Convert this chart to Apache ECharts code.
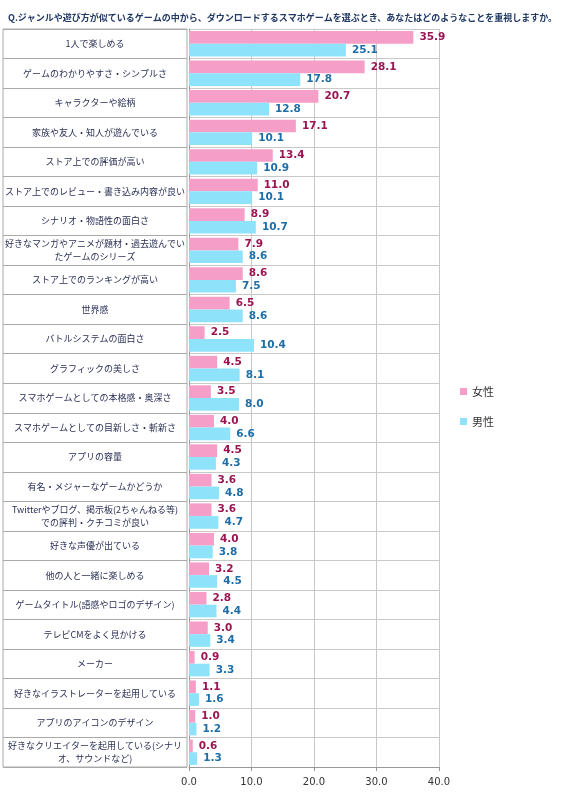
<!DOCTYPE html>
<html><head><meta charset="utf-8">
<script src="https://cdn.jsdelivr.net/npm/echarts@6/dist/echarts.min.js"></script>
<style>html,body{margin:0;padding:0;background:#fff}#c{width:563px;height:800px}</style>
</head><body><div id="c"></div>
<script>
const titleText = 'Q.ジャンルや遊び方が似ているゲームの中から、ダウンロードするスマホゲームを選ぶとき、あなたはどのようなことを重視しますか。';
const categories = [
  '1人で楽しめる',
  'ゲームのわかりやすさ・シンプルさ',
  'キャラクターや絵柄',
  '家族や友人・知人が遊んでいる',
  'ストア上での評価が高い',
  'ストア上でのレビュー・書き込み内容が良い',
  'シナリオ・物語性の面白さ',
  '好きなマンガやアニメが題材・過去遊んでい\nたゲームのシリーズ',
  'ストア上でのランキングが高い',
  '世界感',
  'バトルシステムの面白さ',
  'グラフィックの美しさ',
  'スマホゲームとしての本格感・奥深さ',
  'スマホゲームとしての目新しさ・斬新さ',
  'アプリの容量',
  '有名・メジャーなゲームかどうか',
  'Twitterやブログ、掲示板(2ちゃんねる等)\nでの評判・クチコミが良い',
  '好きな声優が出ている',
  '他の人と一緒に楽しめる',
  'ゲームタイトル(語感やロゴのデザイン)',
  'テレビCMをよく見かける',
  'メーカー',
  '好きなイラストレーターを起用している',
  'アプリのアイコンのデザイン',
  '好きなクリエイターを起用している(シナリ\nオ、サウンドなど)'
];
const female = [35.9,28.1,20.7,17.1,13.4,11.0,8.9,7.9,8.6,6.5,2.5,4.5,3.5,4.0,4.5,3.6,3.6,4.0,3.2,2.8,3.0,0.9,1.1,1.0,0.6];
const male   = [25.1,17.8,12.8,10.1,10.9,10.1,10.7,8.6,7.5,8.6,10.4,8.1,8.0,6.6,4.3,4.8,4.7,3.8,4.5,4.4,3.4,3.3,1.6,1.2,1.3];
const seriesNames = ['女性','男性'];
const xTicks = {min:0, max:40, interval:10};

const font = '"DejaVu Sans","Noto Sans CJK JP",sans-serif';
const cjk = '"Noto Sans CJK JP",sans-serif';
const chart = echarts.init(document.getElementById('c'));
const TOP = 29, BOTTOM = 33;
chart.setOption({
  animation:false,
  title:{text:titleText,left:3,top:8,textStyle:{fontSize:9,fontWeight:'bold',color:'#1f3864',fontFamily:cjk}},
  legend:{data:seriesNames,orient:'vertical',left:455,top:381,itemWidth:7,itemHeight:7,itemGap:19,icon:'rect',
    textStyle:{fontSize:11,color:'#333',fontFamily:cjk}},
  grid:[
    {left:189,width:250,top:TOP,bottom:BOTTOM,containLabel:false},
    {left:3,width:184,top:TOP,bottom:BOTTOM,show:true,borderColor:'#aaa',borderWidth:1,containLabel:false}
  ],
  xAxis:[
    {gridIndex:0,type:'value',min:xTicks.min,max:xTicks.max,interval:xTicks.interval,
      axisLine:{show:true,lineStyle:{color:'#999'}},axisTick:{show:true,length:4,lineStyle:{color:'#999'}},
      splitLine:{show:true,lineStyle:{color:'#c8c8c8'}},
      axisLabel:{formatter:v=>v.toFixed(1),fontSize:10,color:'#333',margin:10,fontFamily:font}},
    {gridIndex:1,type:'value',show:false,min:0,max:1}
  ],
  yAxis:[
    {gridIndex:0,type:'category',data:categories,inverse:true,
      axisLine:{show:true,lineStyle:{color:'#999'}},axisTick:{show:false},axisLabel:{show:false},
      splitLine:{show:true,lineStyle:{color:'#c8c8c8'}}},
    {gridIndex:1,type:'category',data:categories,inverse:true,
      axisLine:{show:false},axisTick:{show:false},
      splitLine:{show:true,lineStyle:{color:'#aaa'}},
      axisLabel:{inside:true,margin:92,align:'center',lineHeight:13,
        fontSize:9,color:'#2a2f55',fontFamily:cjk}}
  ],
  series:[
    {name:seriesNames[0],type:'bar',xAxisIndex:0,yAxisIndex:0,data:female,barGap:'0%',barCategoryGap:'14%',
      itemStyle:{color:'#f59ec7'},
      label:{show:true,position:'right',distance:6,formatter:p=>p.value.toFixed(1),fontSize:10.5,fontWeight:'bold',color:'#9b1451',fontFamily:font}},
    {name:seriesNames[1],type:'bar',xAxisIndex:0,yAxisIndex:0,data:male,barGap:'0%',barCategoryGap:'14%',
      itemStyle:{color:'#8ee3fb'},
      label:{show:true,position:'right',distance:6,formatter:p=>p.value.toFixed(1),fontSize:10.5,fontWeight:'bold',color:'#1d6ea8',fontFamily:font}}
  ]
});
</script></body></html>
